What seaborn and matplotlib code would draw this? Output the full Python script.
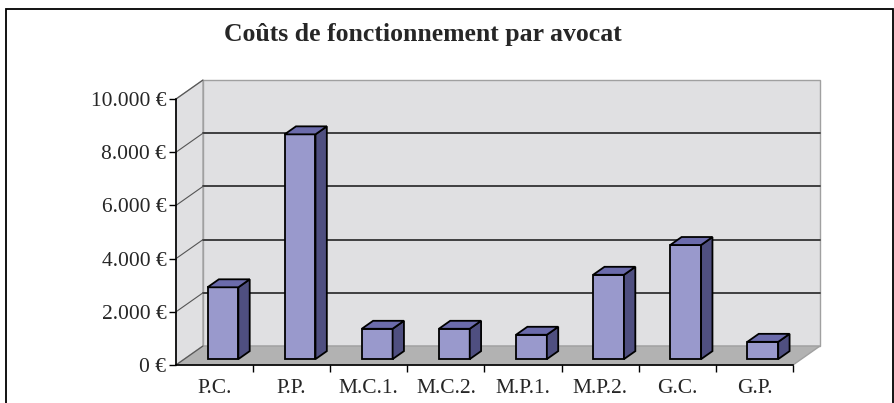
import matplotlib.pyplot as plt
import seaborn as sns
from matplotlib.patches import Polygon, Rectangle
from matplotlib.lines import Line2D
from matplotlib.transforms import ScaledTranslation

categories = ["P.C.", "P.P.", "M.C.1.", "M.C.2.", "M.P.1.", "M.P.2.", "G.C.", "G.P."]
costs = [2700, 8450, 1140, 1140, 915, 3170, 4290, 650]
yticks = [0, 2000, 4000, 6000, 8000, 10000]
ytick_labels = [f"{v:,}".replace(",", ".") + " €" for v in yticks]

sns.set_theme(style="white")
plt.rcParams["font.family"] = ["Liberation Serif", "DejaVu Serif"]

DX, DY = 27, 19          # full depth of the 3D box, in pixels
F0, F1 = 0.31, 0.73      # depth of bar front / back faces
FRONT, SIDE, TOP = "#9999cc", "#4f4f80", "#6b6bab"
WALL, FLOOR = "#e0e0e2", "#b2b2b2"

fig = plt.figure(figsize=(8.95, 4.03), dpi=100)
ax = fig.add_axes([176 / 895, 38 / 403, 617 / 895, 266 / 403])
ax.patch.set_visible(False)

sns.barplot(x=categories, y=costs, color=FRONT, saturation=1, width=0.40,
            edgecolor="black", linewidth=1.3, ax=ax, zorder=3)
ax.set_xlim(-0.5, len(categories) - 0.5)
ax.set_ylim(0, 10000)


def shift(x, y, f):
    # push a data point back into the box by depth fraction f
    px, py = ax.transData.transform((x, y))
    return ax.transData.inverted().transform((px + f * DX, py + f * DY))


x0, x1 = ax.get_xlim()
y0, y1 = ax.get_ylim()

# walls and floor
back = Polygon([shift(x0, y0, 1), shift(x1, y0, 1), shift(x1, y1, 1), shift(x0, y1, 1)],
               closed=True, fc=WALL, ec="#a0a0a0", lw=1, zorder=0, clip_on=False)
side = Polygon([(x0, y0), (x0, y1), shift(x0, y1, 1), shift(x0, y0, 1)],
               closed=True, fc=WALL, ec="#a0a0a0", lw=1, zorder=0, clip_on=False)
floor = Polygon([(x0, y0), (x1, y0), shift(x1, y0, 1), shift(x0, y0, 1)],
                closed=True, fc=FLOOR, ec="#a0a0a0", lw=1, zorder=0.5, clip_on=False)
for p in (back, side, floor):
    ax.add_patch(p)

# gridlines on back wall and side wall
for v in yticks:
    if 0 < v < y1:
        a, b = shift(x0, v, 1), shift(x1, v, 1)
        ax.add_line(Line2D([a[0], b[0]], [a[1], b[1]], color="#333333", lw=1.3,
                           zorder=1, clip_on=False))
    c = shift(x0, v, 1)
    ax.add_line(Line2D([x0, c[0]], [v, c[1]], color="#555555", lw=0.8,
                       zorder=1, clip_on=False))

# turn the flat seaborn bars into boxes
off0 = ScaledTranslation(F0 * DX / 100, F0 * DY / 100, fig.dpi_scale_trans)
for bar in list(ax.patches):
    if not isinstance(bar, Rectangle):
        continue
    bx, bw, bh = bar.get_x(), bar.get_width(), bar.get_height()
    bar.set_transform(ax.transData + off0)
    bar.set_clip_on(False)
    fl, fr = shift(bx, 0, F0), shift(bx + bw, 0, F0)
    tl, tr = shift(bx, bh, F0), shift(bx + bw, bh, F0)
    br_, bt = shift(bx + bw, 0, F1), shift(bx + bw, bh, F1)
    bl_t = shift(bx, bh, F1)
    ax.add_patch(Polygon([fr, tr, bt, br_], closed=True, fc=SIDE, ec="black",
                         lw=1.3, zorder=3, clip_on=False))
    ax.add_patch(Polygon([tl, tr, bt, bl_t], closed=True, fc=TOP, ec="black",
                         lw=1.3, zorder=3, clip_on=False))

# axes
for s in ("top", "right"):
    ax.spines[s].set_visible(False)
for s in ("left", "bottom"):
    ax.spines[s].set_color("black")
    ax.spines[s].set_linewidth(1.2)
    ax.spines[s].set_zorder(4)
ax.set_yticks(yticks)
ax.set_yticklabels(ytick_labels, fontsize=15.5)
ax.set_xticks(range(len(categories)))
ax.set_xticklabels(categories, fontsize=15.5)
ax.set_xticks([i + 0.5 for i in range(len(categories))], minor=True)
ax.tick_params(axis="y", direction="out", length=5, width=1, color="black",
               pad=2, left=True)
ax.tick_params(axis="x", which="major", length=0, pad=10)
ax.tick_params(axis="x", which="minor", direction="out", length=5, width=1,
               color="black", bottom=True)
ax.set_xlabel("")
ax.set_ylabel("")

fig.text(423 / 895, 1 - 35 / 403, "Coûts de fonctionnement par avocat",
         ha="center", va="center", fontsize=18.5, fontweight="bold")

fig.patches.append(Rectangle((6 / 895, -0.05), 887 / 895, 0.05 + (403 - 9) / 403,
                             transform=fig.transFigure, fill=False, ec="black",
                             lw=1.3, zorder=10))

fig.savefig("out.png", dpi=100)
